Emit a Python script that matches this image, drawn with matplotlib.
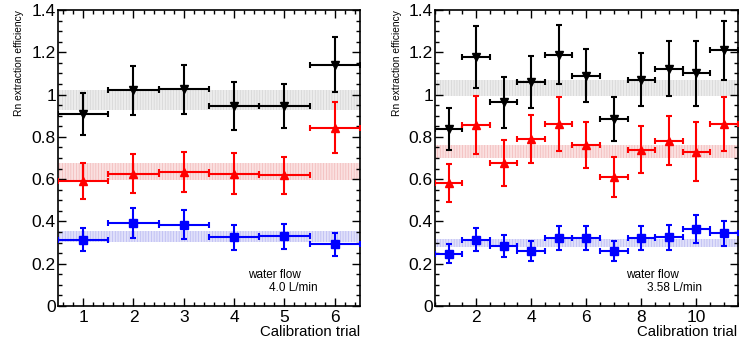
import numpy as np
import matplotlib
matplotlib.use("Agg")
import matplotlib.pyplot as plt
from matplotlib.ticker import MultipleLocator, FuncFormatter

plt.rcParams['font.family'] = ['Liberation Sans', 'DejaVu Sans']
plt.rcParams['hatch.linewidth'] = 0.5

# Left panel: water flow 4.0 L/min
left_trial = [1, 2, 3, 4, 5, 6]
left_black = [0.908, 1.02, 1.024, 0.945, 0.945, 1.14]
left_black_err = [0.10, 0.115, 0.117, 0.112, 0.105, 0.13]
left_red = [0.592, 0.626, 0.633, 0.626, 0.618, 0.844]
left_red_err = [0.086, 0.092, 0.093, 0.098, 0.086, 0.12]
left_blue = [0.313, 0.392, 0.384, 0.325, 0.329, 0.292]
left_blue_err = [0.055, 0.07, 0.068, 0.058, 0.058, 0.054]
left_bands = {"black": (0.925, 1.02), "red": (0.597, 0.676), "blue": (0.302, 0.357)}

# Right panel: water flow 3.58 L/min
right_trial = [1, 2, 3, 4, 5, 6, 7, 8, 9, 10, 11]
right_black = [0.837, 1.178, 0.964, 1.06, 1.188, 1.09, 0.885, 1.071, 1.122, 1.10, 1.21]
right_black_err = [0.10, 0.148, 0.12, 0.124, 0.14, 0.125, 0.105, 0.125, 0.13, 0.155, 0.14]
right_red = [0.583, 0.855, 0.676, 0.791, 0.861, 0.76, 0.611, 0.739, 0.782, 0.73, 0.861]
right_red_err = [0.09, 0.137, 0.107, 0.113, 0.127, 0.108, 0.094, 0.11, 0.115, 0.139, 0.126]
right_blue = [0.246, 0.313, 0.284, 0.262, 0.321, 0.321, 0.262, 0.321, 0.325, 0.363, 0.344]
right_blue_err = [0.045, 0.055, 0.052, 0.047, 0.058, 0.057, 0.047, 0.058, 0.059, 0.065, 0.06]
right_bands = {"black": (0.992, 1.07), "red": (0.698, 0.763), "blue": (0.281, 0.319)}

series_style = {
    "black": {"color": "black", "marker": "v", "fill": "#ececec", "hatch": "#d4d4d4"},
    "red": {"color": "#ff0000", "marker": "^", "fill": "#fae0e0", "hatch": "#f2b8b8"},
    "blue": {"color": "#0000ff", "marker": "s", "fill": "#e0e0fa", "hatch": "#b8b8f2"},
}


def draw_panel(ax, trials, series, bands, flow_text, xmajor, xminor, ylab_x):
    xlo, xhi = trials[0] - 0.5, trials[-1] + 0.5
    for key, (lo, hi) in bands.items():
        st = series_style[key]
        ax.fill_between([xlo, xhi], lo, hi, facecolor=st["fill"],
                        edgecolor=st["hatch"], hatch='||||||',
                        linewidth=0, zorder=1)
    for key, (vals, errs) in series.items():
        st = series_style[key]
        ax.errorbar(trials, vals, yerr=errs, xerr=0.5, fmt=st["marker"],
                    color=st["color"], markersize=5.5, elinewidth=1.5,
                    capsize=2.5, capthick=1.5, zorder=3)
    ax.set_xlim(xlo, xhi)
    ax.set_ylim(0, 1.4)
    ax.xaxis.set_major_locator(MultipleLocator(xmajor))
    ax.xaxis.set_minor_locator(MultipleLocator(xminor))
    ax.yaxis.set_major_locator(MultipleLocator(0.2))
    ax.yaxis.set_minor_locator(MultipleLocator(0.05))
    ax.yaxis.set_major_formatter(FuncFormatter(lambda v, p: f'{v:g}'))
    ax.tick_params(which='both', direction='in', top=True, right=True,
                   width=1.0, labelsize=12.5)
    ax.tick_params(axis='x', which='major', length=6, pad=3)
    ax.tick_params(axis='x', which='minor', length=3)
    ax.tick_params(axis='y', which='major', length=6, pad=1.5)
    ax.tick_params(axis='y', which='minor', length=3)
    for sp in ax.spines.values():
        sp.set_linewidth(1.2)
    ax.set_xlabel('Calibration trial', fontsize=10.8, loc='right', labelpad=0)
    ax.set_ylabel('Rn extraction efficiency', fontsize=7.4, loc='top')
    ax.yaxis.set_label_coords(ylab_x, 1.0)
    ax.text(0.631, 0.105, 'water flow', transform=ax.transAxes,
            fontsize=8.5, va='center')
    ax.text(0.70, 0.061, flow_text, transform=ax.transAxes,
            fontsize=8.5, va='center')


fig = plt.figure(figsize=(7.39, 3.44), dpi=100)
ax1 = fig.add_axes([0.0785, 0.1105, 0.4085, 0.8605])
ax2 = fig.add_axes([0.5886, 0.1105, 0.4094, 0.8605])

draw_panel(ax1, left_trial,
           {"black": (left_black, left_black_err),
            "red": (left_red, left_red_err),
            "blue": (left_blue, left_blue_err)},
           left_bands, '4.0 L/min', 1, 0.2, -0.113)
draw_panel(ax2, right_trial,
           {"black": (right_black, right_black_err),
            "red": (right_red, right_red_err),
            "blue": (right_blue, right_blue_err)},
           right_bands, '3.58 L/min', 2, 0.5, -0.108)

fig.savefig('out.png', dpi=100)
